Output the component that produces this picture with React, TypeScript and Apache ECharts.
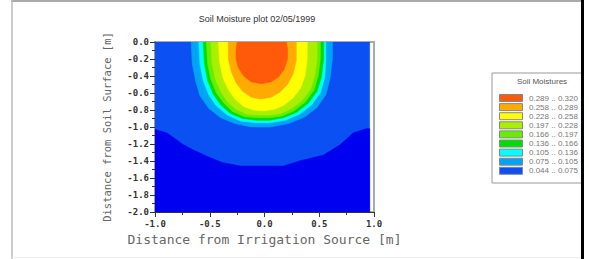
import React, { useEffect, useRef } from "react";
import * as echarts from "echarts";

// ---- data ----
const titleText = "Soil Moisture plot 02/05/1999";
const legendTitle = "Soil Moistures";
const legendLabels = [
  "0.289 .. 0.320",
  "0.258 .. 0.289",
  "0.228 .. 0.258",
  "0.197 .. 0.228",
  "0.166 .. 0.197",
  "0.136 .. 0.166",
  "0.105 .. 0.136",
  "0.075 .. 0.105",
  "0.044 .. 0.075",
];
const legendColors = [
  "#FF5A0A",
  "#FFAA00",
  "#FFFF00",
  "#AAEE00",
  "#66EE00",
  "#00DD00",
  "#00FFFF",
  "#00A4F4",
  "#0A50F2",
];
const deepBlue = "#0000F0";

// filled data region (value 0.044 .. 0.075 everywhere underneath)
const domainRegion: number[][] = [
  [-1, 0], [0.96, 0], [0.96, -2], [-1, -2],
];
// region below 0.044
const below044: number[][] = [
  [-1, -1.03], [-0.89, -1.07], [-0.74, -1.21], [-0.65, -1.27], [-0.5, -1.36],
  [-0.38, -1.42], [-0.22, -1.46], [0.17, -1.46], [0.32, -1.4], [0.54, -1.33],
  [0.69, -1.21], [0.81, -1.07], [0.93, -1.02], [0.96, -1.02], [0.96, -2], [-1, -2],
];
// contour polygons (region above each level)
const above075: number[][] = [
  [-0.67, 0], [-0.66, -0.25], [-0.63, -0.45], [-0.59, -0.63], [-0.51, -0.78],
  [-0.4, -0.89], [-0.27, -0.96], [-0.12, -1.0], [0.05, -1.0], [0.22, -0.96],
  [0.37, -0.88], [0.48, -0.77], [0.56, -0.62], [0.6, -0.42], [0.62, -0.2], [0.62, 0],
];
const above105: number[][] = [
  [-0.6, 0], [-0.59, -0.25], [-0.56, -0.45], [-0.51, -0.62], [-0.44, -0.75],
  [-0.34, -0.86], [-0.22, -0.93], [-0.08, -0.95], [0.05, -0.95], [0.19, -0.92],
  [0.32, -0.85], [0.43, -0.74], [0.51, -0.6], [0.55, -0.42], [0.56, -0.2], [0.56, 0],
];
const above136: number[][] = [
  [-0.56, 0], [-0.55, -0.25], [-0.52, -0.45], [-0.47, -0.61], [-0.4, -0.74],
  [-0.31, -0.84], [-0.2, -0.9], [-0.07, -0.92], [0.05, -0.92], [0.17, -0.89],
  [0.29, -0.83], [0.4, -0.72], [0.48, -0.58], [0.52, -0.41], [0.54, -0.2], [0.54, 0],
];
const above166: number[][] = [
  [-0.53, 0], [-0.52, -0.25], [-0.49, -0.44], [-0.44, -0.6], [-0.37, -0.72],
  [-0.29, -0.82], [-0.18, -0.88], [-0.06, -0.89], [0.05, -0.89], [0.16, -0.87],
  [0.27, -0.81], [0.37, -0.71], [0.45, -0.57], [0.49, -0.4], [0.51, -0.2], [0.51, 0],
];
const above197: number[][] = [
  [-0.49, 0], [-0.48, -0.24], [-0.45, -0.43], [-0.4, -0.58], [-0.34, -0.7],
  [-0.26, -0.79], [-0.16, -0.85], [-0.05, -0.86], [0.05, -0.86], [0.15, -0.84],
  [0.25, -0.78], [0.34, -0.69], [0.42, -0.56], [0.46, -0.39], [0.48, -0.2], [0.48, 0],
];
const above228: number[][] = [
  [-0.42, 0], [-0.41, -0.23], [-0.38, -0.42], [-0.33, -0.56], [-0.27, -0.67],
  [-0.19, -0.76], [-0.1, -0.8], [0.0, -0.81], [0.09, -0.79], [0.18, -0.74],
  [0.26, -0.66], [0.33, -0.54], [0.37, -0.4], [0.39, -0.2], [0.39, 0],
];
const above258: number[][] = [
  [-0.33, 0], [-0.33, -0.2], [-0.3, -0.36], [-0.26, -0.48], [-0.2, -0.58],
  [-0.12, -0.65], [-0.03, -0.67], [0.06, -0.65], [0.14, -0.59], [0.21, -0.5],
  [0.26, -0.38], [0.29, -0.22], [0.29, 0],
];
const above289: number[][] = [
  [-0.25, 0], [-0.26, -0.1], [-0.26, -0.2], [-0.24, -0.3], [-0.19, -0.4],
  [-0.12, -0.47], [-0.03, -0.49], [0.06, -0.47], [0.13, -0.41], [0.18, -0.32],
  [0.21, -0.2], [0.21, -0.08], [0.2, 0],
];

const xTitle = "Distance from Irrigation Source [m]";
const yTitle = "Distance from Soil Surface [m]";

export default function App() {
  const ref = useRef<HTMLDivElement>(null);
  useEffect(() => {
    if (!ref.current) return;
    const chart = echarts.init(ref.current, null, { renderer: "svg" });

    const layers: { pts: number[][]; color: string }[] = [
      { pts: domainRegion, color: legendColors[8] },
      { pts: below044, color: deepBlue },
      { pts: above075, color: legendColors[7] },
      { pts: above105, color: legendColors[6] },
      { pts: above136, color: legendColors[5] },
      { pts: above166, color: legendColors[4] },
      { pts: above197, color: legendColors[3] },
      { pts: above228, color: legendColors[2] },
      { pts: above258, color: legendColors[1] },
      { pts: above289, color: legendColors[0] },
    ];

    const series = layers.map((layer, i) => ({
      type: "custom",
      name: "layer" + i,
      coordinateSystem: "cartesian2d",
      clip: true,
      silent: true,
      z: 2,
      data: layer.pts,
      renderItem: (params: any, api: any) => {
        if (params.dataIndex !== 0) return null;
        const points = layer.pts.map((p) => api.coord(p));
        return {
          type: "polygon",
          shape: { points },
          style: { fill: layer.color, stroke: layer.color, lineWidth: 0.6 },
        };
      },
    }));

    const legendLeft = 492;
    const legendTop = 73;
    const rowStart = 94;
    const rowH = 9.1;
    const legendGraphics: any[] = [
      {
        type: "rect",
        shape: { x: legendLeft, y: legendTop, width: 110, height: 110 },
        style: { fill: "#fff", stroke: "#999", lineWidth: 1 },
        z: 10,
      },
      {
        type: "text",
        x: 542,
        y: 81.5,
        style: {
          text: legendTitle,
          fill: "#555",
          font: "8px 'Liberation Sans', Arial, sans-serif",
          textAlign: "center",
          textVerticalAlign: "middle",
        },
        z: 11,
      },
    ];
    legendLabels.forEach((lab, i) => {
      legendGraphics.push({
        type: "rect",
        shape: { x: 499.5, y: rowStart + i * rowH + 0.5, width: 23, height: 7 },
        style: { fill: legendColors[i], stroke: "#888", lineWidth: 1 },
        z: 11,
      });
      legendGraphics.push({
        type: "text",
        x: 529,
        y: rowStart + i * rowH + 4,
        style: {
          text: lab,
          fill: "#777",
          font: "8px 'Liberation Sans', Arial, sans-serif",
          textAlign: "left",
          textVerticalAlign: "middle",
        },
        z: 11,
      });
    });

    const option: any = {
      animation: false,
      backgroundColor: "#fff",
      title: {
        text: titleText,
        left: 252,
        top: 9,
        textAlign: "center",
        textStyle: {
          fontFamily: "'Liberation Sans', Arial, sans-serif",
          fontSize: 9,
          fontWeight: "normal",
          color: "#333",
        },
      },
      grid: {
        left: 155,
        top: 42,
        width: 219,
        height: 170,
        show: true,
        borderColor: "#aaa",
        borderWidth: 2,
        backgroundColor: "transparent",
      },
      xAxis: {
        type: "value",
        min: -1,
        max: 1,
        interval: 0.5,
        name: xTitle,
        nameLocation: "middle",
        nameGap: 20,
        nameTextStyle: {
          fontFamily: "'DejaVu Sans Mono', monospace",
          fontSize: 13,
          color: "#666",
        },
        axisLine: { show: true, onZero: false, lineStyle: { color: "#333", width: 1.2 } },
        axisTick: { show: true, length: 5, lineStyle: { color: "#333" } },
        minorTick: { show: true, splitNumber: 2, length: 3, lineStyle: { color: "#333" } },
        splitLine: { show: false },
        axisLabel: {
          margin: 7,
          fontFamily: "'DejaVu Sans Mono', monospace",
          fontWeight: "bold",
          fontSize: 9,
          color: "#333",
          formatter: (v: number) => v.toFixed(1),
        },
      },
      yAxis: {
        type: "value",
        min: -2,
        max: 0,
        interval: 0.2,
        name: yTitle,
        nameLocation: "middle",
        nameGap: 43,
        nameTextStyle: {
          fontFamily: "'DejaVu Sans Mono', monospace",
          fontSize: 10.5,
          color: "#666",
        },
        axisLine: { show: true, onZero: false, lineStyle: { color: "#333", width: 1.2 } },
        axisTick: { show: true, length: 5, lineStyle: { color: "#333" } },
        minorTick: { show: true, splitNumber: 2, length: 3, lineStyle: { color: "#333" } },
        splitLine: { show: false },
        axisLabel: {
          margin: 6,
          fontFamily: "'DejaVu Sans Mono', monospace",
          fontWeight: "bold",
          fontSize: 9,
          color: "#333",
          formatter: (v: number) => v.toFixed(1),
        },
      },
      series,
      graphic: [
        ...legendGraphics,
        { type: "line", shape: { x1: 11, y1: 1, x2: 583, y2: 1 }, style: { stroke: "#aaa", lineWidth: 2 }, z: 20 },
        { type: "line", shape: { x1: 12, y1: 0, x2: 12, y2: 259 }, style: { stroke: "#bbb", lineWidth: 1.5 }, z: 20 },
        { type: "line", shape: { x1: 12, y1: 257.5, x2: 582, y2: 257.5 }, style: { stroke: "#eee", lineWidth: 1 }, z: 20 },
        { type: "rect", shape: { x: 584, y: 0, width: 6, height: 259 }, style: { fill: "#fff" }, z: 20 },
        { type: "rect", shape: { x: 581, y: 0, width: 3, height: 259 }, style: { fill: "#000" }, z: 21 },
      ],
    };
    chart.setOption(option);
    return () => chart.dispose();
  }, []);
  return (
    <div
      ref={ref}
      style={{ position: "fixed", left: 0, top: 0, width: 589, height: 259 }}
    />
  );
}
